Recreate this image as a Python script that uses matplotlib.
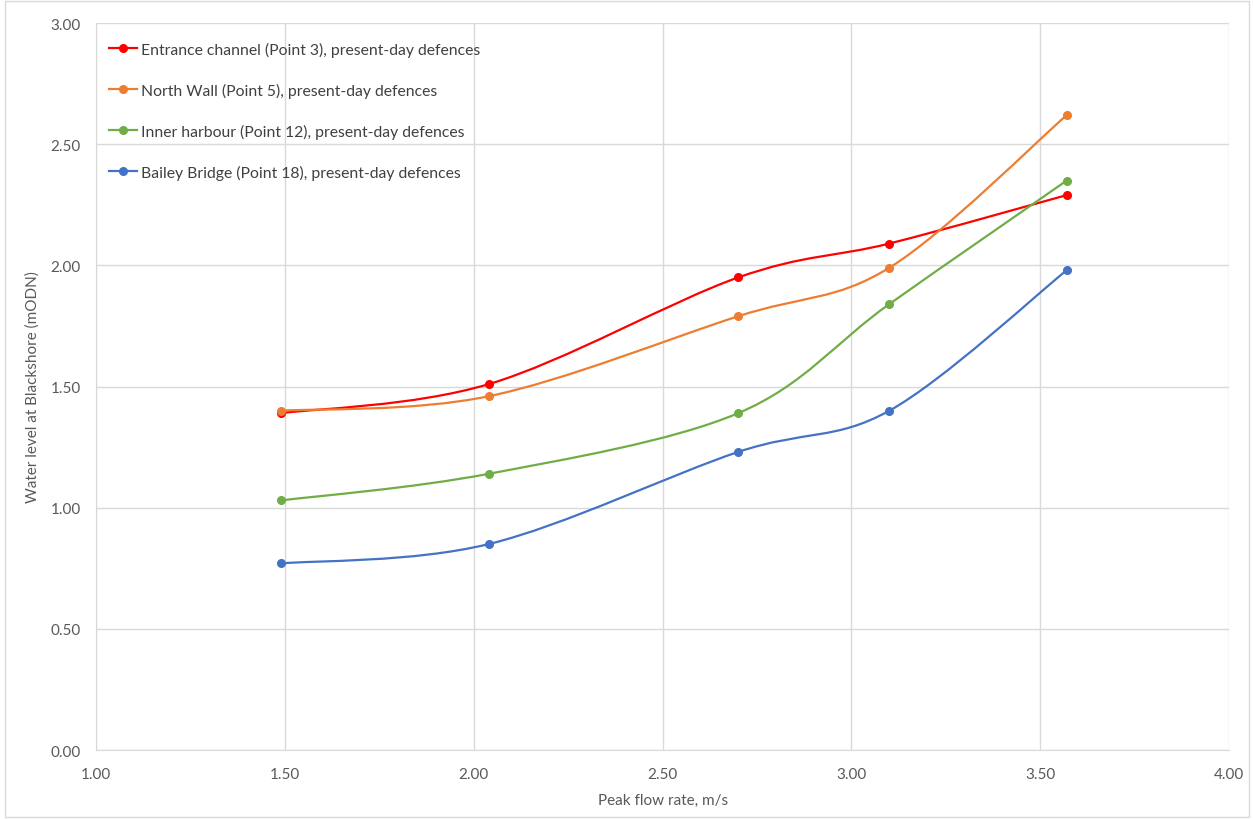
import matplotlib
matplotlib.use("Agg")
import matplotlib.pyplot as plt
import numpy as np
from matplotlib.path import Path
from matplotlib.patches import PathPatch

plt.rcParams['font.family'] = ['Lato', 'DejaVu Sans']

flow = [1.49, 2.04, 2.70, 3.10, 3.57]
entrance = [1.39, 1.51, 1.95, 2.09, 2.29]
north_wall = [1.40, 1.46, 1.79, 1.99, 2.62]
inner_harbour = [1.03, 1.14, 1.39, 1.84, 2.35]
bailey_bridge = [0.77, 0.85, 1.23, 1.40, 1.98]

labels = ["Entrance channel (Point 3), present-day defences",
          "North Wall (Point 5), present-day defences",
          "Inner harbour (Point 12), present-day defences",
          "Bailey Bridge (Point 18), present-day defences"]
colors = ["#FF0000", "#ED7D31", "#70AD47", "#4472C4"]


def smooth_path(x, y):
    # Excel-like smoothed line: Catmull-Rom as cubic bezier segments
    p = np.column_stack([x, y]).astype(float)
    ext = np.vstack([p[0], p, p[-1]])
    verts = [p[0]]
    codes = [Path.MOVETO]
    for i in range(1, len(ext) - 2):
        p0, p1, p2, p3 = ext[i - 1], ext[i], ext[i + 1], ext[i + 2]
        c1 = p1 + (p2 - p0) / 6.0
        c2 = p2 - (p3 - p1) / 6.0
        verts += [c1, c2, p2]
        codes += [Path.CURVE4] * 3
    return Path(verts, codes)


fig = plt.figure(figsize=(12.53, 8.2), dpi=100)
ax = fig.add_axes([0.0766, 0.0841, 0.9044, 0.8866])

series = [entrance, north_wall, inner_harbour, bailey_bridge]
for vals, lab, col in zip(series, labels, colors):
    ax.add_patch(PathPatch(smooth_path(flow, vals), facecolor='none',
                           edgecolor=col, lw=1.6, zorder=3))
    ax.plot(flow, vals, ls='none', marker='o', ms=5.5, color=col, zorder=4)
    ax.plot([], [], '-o', color=col, lw=1.6, ms=5.5, label=lab)

ax.set_xlim(1.0, 4.0)
ax.set_ylim(0.0, 3.0)
ax.set_xticks(np.arange(1.0, 4.01, 0.5))
ax.set_yticks(np.arange(0.0, 3.01, 0.5))
ax.xaxis.set_major_formatter(matplotlib.ticker.FormatStrFormatter('%.2f'))
ax.yaxis.set_major_formatter(matplotlib.ticker.FormatStrFormatter('%.2f'))
ax.grid(True, color='#D9D9D9', lw=1.0)
ax.set_axisbelow(True)
for s in ['top', 'right']:
    ax.spines[s].set_visible(False)
for s in ['left', 'bottom']:
    ax.spines[s].set_color('#D9D9D9')
ax.tick_params(axis='y', length=0, labelsize=11, colors='#595959', pad=11)
ax.tick_params(axis='x', length=0, labelsize=11, colors='#595959', pad=12)
ax.set_xlabel("Peak flow rate, m/s", fontsize=11, color='#595959', labelpad=9)
ax.set_ylabel("Water level at Blackshore (mODN)", fontsize=11, color='#595959', labelpad=8)

leg = ax.legend(loc='upper left', bbox_to_anchor=(0.0, 0.993), frameon=False,
                fontsize=11.3, labelspacing=1.66, handlelength=1.75,
                handletextpad=0.3, borderaxespad=0.55, borderpad=0.3,
                labelcolor='#404040')

fig.patches.append(plt.Rectangle((0.004, 0.003), 0.993, 0.994, transform=fig.transFigure,
                                 fill=False, edgecolor='#D9D9D9', lw=1.0))

fig.savefig("out.png", dpi=100)
